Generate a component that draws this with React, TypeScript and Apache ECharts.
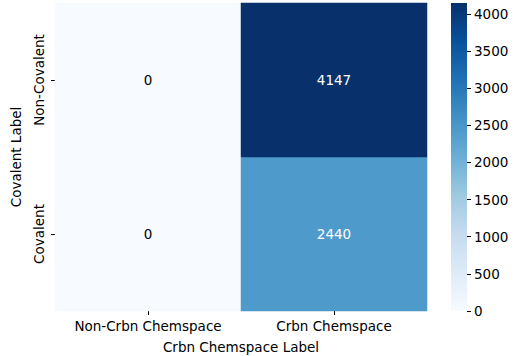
import React, { useEffect, useRef } from "react";
import * as echarts from "echarts";

const xCategories = ["Non-Crbn Chemspace", "Crbn Chemspace"];
const yCategories = ["Covalent", "Non-Covalent"]; // bottom to top
const covalentRow = [0, 2440];
const nonCovalentRow = [0, 4147];
const colorbarTicks = [0, 500, 1000, 1500, 2000, 2500, 3000, 3500, 4000];
const blues = ["#f7fbff", "#deebf7", "#c6dbef", "#9ecae1", "#6baed6", "#4292c6", "#2171b5", "#08519c", "#08306b"];

const FONT = "DejaVu Sans";
const FS = 13.5;

export default function App() {
  const ref = useRef<HTMLDivElement>(null);
  useEffect(() => {
    document.body.style.margin = "0";
    if (!ref.current) return;
    const chart = echarts.init(ref.current, null, { renderer: "svg" });
    const rows = [covalentRow, nonCovalentRow];
    const vmax = Math.max(...covalentRow, ...nonCovalentRow);
    const data: any[] = [];
    rows.forEach((row, yi) =>
      row.forEach((v, xi) => {
        data.push({
          value: [xi, yi, v],
          label: { color: v / vmax > 0.5 ? "#ffffff" : "#000000" },
        });
      })
    );
    const gradStops = blues
      .slice()
      .reverse()
      .map((c, i) => ({ offset: i / (blues.length - 1), color: c }));
    chart.setOption({
      animation: false,
      textStyle: { fontFamily: FONT },
      grid: [
        { left: 55, top: 3, width: 372, height: 308, outerBoundsMode: "none", containLabel: false },
        { left: 451, top: 3, width: 16, height: 308, outerBoundsMode: "none", containLabel: false },
      ],
      xAxis: [
        {
          type: "category",
          gridIndex: 0,
          data: xCategories,
          axisLine: { show: false },
          axisTick: { show: true, alignWithLabel: true, length: 4, lineStyle: { color: "#000" } },
          axisLabel: { color: "#000", fontSize: FS, fontFamily: FONT, margin: 8, interval: 0 },
          name: "Crbn Chemspace Label",
          nameLocation: "middle",
          nameGap: 29,
          nameTextStyle: { color: "#000", fontSize: FS, fontFamily: FONT },
          splitLine: { show: false },
        },
        {
          type: "category",
          gridIndex: 1,
          data: ["cb"],
          show: false,
        },
      ],
      yAxis: [
        {
          type: "category",
          gridIndex: 0,
          data: yCategories,
          axisLine: { show: false },
          axisTick: { show: true, alignWithLabel: true, length: 4, lineStyle: { color: "#000" } },
          axisLabel: { color: "#000", fontSize: FS, fontFamily: FONT, rotate: 90, margin: 9, interval: 0 },
          name: "Covalent Label",
          nameLocation: "middle",
          nameGap: 32,
          nameRotate: 90,
          nameTextStyle: { color: "#000", fontSize: FS, fontFamily: FONT },
          splitLine: { show: false },
        },
        {
          type: "value",
          gridIndex: 1,
          position: "right",
          min: 0,
          max: vmax,
          axisLine: { show: false },
          splitLine: { show: false },
          axisTick: { show: true, length: 4, customValues: colorbarTicks, lineStyle: { color: "#000" } },
          axisLabel: {
            color: "#000",
            fontSize: FS,
            fontFamily: FONT,
            margin: 7,
            customValues: colorbarTicks,
            formatter: (v: number) => String(v),
          },
        },
      ],
      visualMap: {
        show: false,
        seriesIndex: 0,
        min: 0,
        max: vmax,
        dimension: 2,
        inRange: { color: blues },
      },
      series: [
        {
          type: "heatmap",
          xAxisIndex: 0,
          yAxisIndex: 0,
          data,
          label: { show: true, fontSize: FS, fontFamily: FONT },
          itemStyle: { borderWidth: 0 },
          emphasis: { disabled: true },
        },
        {
          type: "bar",
          xAxisIndex: 1,
          yAxisIndex: 1,
          data: [vmax],
          barWidth: "100%",
          itemStyle: {
            color: new echarts.graphic.LinearGradient(0, 0, 0, 1, gradStops),
          },
          silent: true,
        },
      ],
    });
    return () => chart.dispose();
  }, []);
  return <div ref={ref} style={{ width: 516, height: 356 }} />;
}
